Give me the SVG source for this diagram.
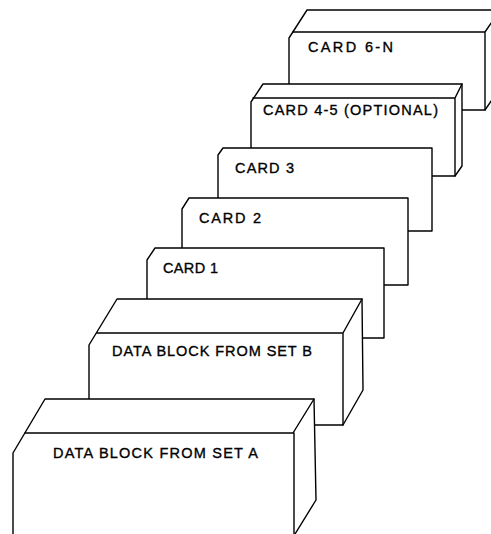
<svg xmlns="http://www.w3.org/2000/svg" width="491" height="534" viewBox="0 0 491 534">
<style>
  .box { fill: #fff; stroke: #000; stroke-width: 1.4; stroke-linejoin: round; }
  .edge { fill: none; stroke: #000; stroke-width: 1.4; stroke-linecap: round; }
  .lbl { font-family: "Liberation Sans", Arial, sans-serif; font-size: 14.5px; fill: #000; stroke: #000; stroke-width: 0.35; }
</style>
<rect width="491" height="534" fill="#fff"/>
<g id="card6n">
  <polygon class="box" points="307,10 500,10 500,88 485,110 289,110 289,38"/>
  <path class="edge" d="M293,32 H485 M485,32 L500,10 M485,32 V110"/>
  <text class="lbl" x="308" y="52" textLength="85" lengthAdjust="spacing">CARD 6-N</text>
</g>
<g id="card45">
  <polygon class="box" points="263,84 462,84 462,166 455,176 251,176 251,102"/>
  <path class="edge" d="M253,98 H455 M455,98 L462,84 M455,98 V176"/>
  <text class="lbl" x="263" y="115" textLength="175" lengthAdjust="spacing">CARD 4-5 (OPTIONAL)</text>
</g>
<g id="card3">
  <polygon class="box" points="223,148 432,148 432,231 218,231 218,155"/>
  <text class="lbl" x="235" y="173" textLength="59" lengthAdjust="spacing">CARD 3</text>
</g>
<g id="card2">
  <polygon class="box" points="189,198 408,198 408,285 182,285 182,209"/>
  <text class="lbl" x="199" y="223" textLength="62" lengthAdjust="spacing">CARD 2</text>
</g>
<g id="card1">
  <polygon class="box" points="155,248 384,248 384,338 147,338 147,260"/>
  <text class="lbl" x="163" y="273" textLength="55" lengthAdjust="spacing">CARD 1</text>
</g>
<g id="setB">
  <polygon class="box" points="117,299 362,299 363,390 343,425 89,425 89,345"/>
  <path class="edge" d="M97,333 H343 M343,333 L362,299 M343,333 V425"/>
  <text class="lbl" x="112" y="356" textLength="200" lengthAdjust="spacing">DATA BLOCK FROM SET B</text>
</g>
<g id="setA">
  <polygon class="box" points="45,399 314,399 316,500 295,534 295,545 13,545 13,453"/>
  <path class="edge" d="M25,433 H293 M293,433 L314,399 M294,433 V534"/>
  <text class="lbl" x="53" y="458" textLength="205" lengthAdjust="spacing">DATA BLOCK FROM SET A</text>
</g>
<g id="connectors"></g>
</svg>
